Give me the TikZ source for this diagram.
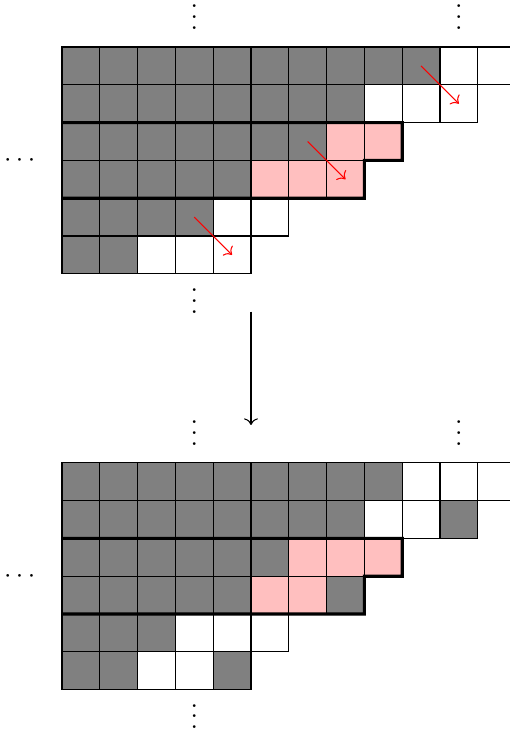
\documentclass[tikz,border=0pt]{standalone}
\usepackage{amsmath,amssymb}
\usepackage{xcolor}
\usepackage{tikz}
\usetikzlibrary{arrows.meta,positioning}
\colorlet{gr}{gray}
\colorlet{wh}{white}
\colorlet{pk}{pink}
\tikzset{cell/.style={draw,minimum size=0.5cm,inner sep=0pt,outer sep=0pt}}

\begin{document}
\begin{tikzpicture}[x=0.5cm,y=0.5cm]
  \useasboundingbox (-1.64,-18.175) rectangle (11.852,1.243);
  \clip (-1.64,-18.175) rectangle (11.852,1.243);
  % before
  \foreach \row [count=\r from 0] in {{gr,gr,gr,gr,gr,gr,gr,gr,gr,gr,wh,wh},
      {gr,gr,gr,gr,gr,gr,gr,gr,wh,wh,wh},{gr,gr,gr,gr,gr,gr,gr,pk,pk},
      {gr,gr,gr,gr,gr,pk,pk,pk},{gr,gr,gr,gr,wh,wh},{gr,gr,wh,wh,wh}}
    \foreach \c [count=\k from 0] in \row
      \node[cell,fill=\c] (t-\r-\k) at (\k+0.5,-\r-0.5) {};
  \draw[very thick] (t-2-0.north west) -- (t-2-8.north east) -- (t-2-8.south east)
    -- (t-3-7.north east) -- (t-3-7.south east) -- (t-3-0.south west);
  \draw[red,->] (t-0-9.center) -- (t-1-10.center);
  \draw[red,->] (t-2-6.center) -- (t-3-7.center);
  \draw[red,->] (t-4-3.center) -- (t-5-4.center);
  \node[anchor=base] (tvd1) at (3.5,0.47) {$\vdots$};
  \node[anchor=base] (tvd2) at (10.5,0.47) {$\vdots$};
  \node[anchor=base] (tvd3) at (3.5,-7.04) {$\vdots$};
  \node[anchor=base] (tcd) at (-1.06,-3.17) {$\cdots$};
  % step
  \coordinate (s) at (5,-7);
  \coordinate (e) at (5,-10);
  \draw[->] (s) -- (e);
  % after
  \foreach \row [count=\r from 0] in {{gr,gr,gr,gr,gr,gr,gr,gr,gr,wh,wh,wh},
      {gr,gr,gr,gr,gr,gr,gr,gr,wh,wh,gr},{gr,gr,gr,gr,gr,gr,pk,pk,pk},
      {gr,gr,gr,gr,gr,pk,pk,gr},{gr,gr,gr,wh,wh,wh},{gr,gr,wh,wh,gr}}
    \foreach \c [count=\k from 0] in \row
      \node[cell,fill=\c] (b-\r-\k) at (\k+0.5,-\r-11.5) {};
  \draw[very thick] (b-2-0.north west) -- (b-2-8.north east) -- (b-2-8.south east)
    -- (b-3-7.north east) -- (b-3-7.south east) -- (b-3-0.south west);
  \node[anchor=base] (bvd1) at (3.5,-10.53) {$\vdots$};
  \node[anchor=base] (bvd2) at (10.5,-10.53) {$\vdots$};
  \node[anchor=base] (bvd3) at (3.5,-18.03) {$\vdots$};
  \node[anchor=base] (bcd) at (-1.06,-14.17) {$\cdots$};
\end{tikzpicture}
\end{document}
